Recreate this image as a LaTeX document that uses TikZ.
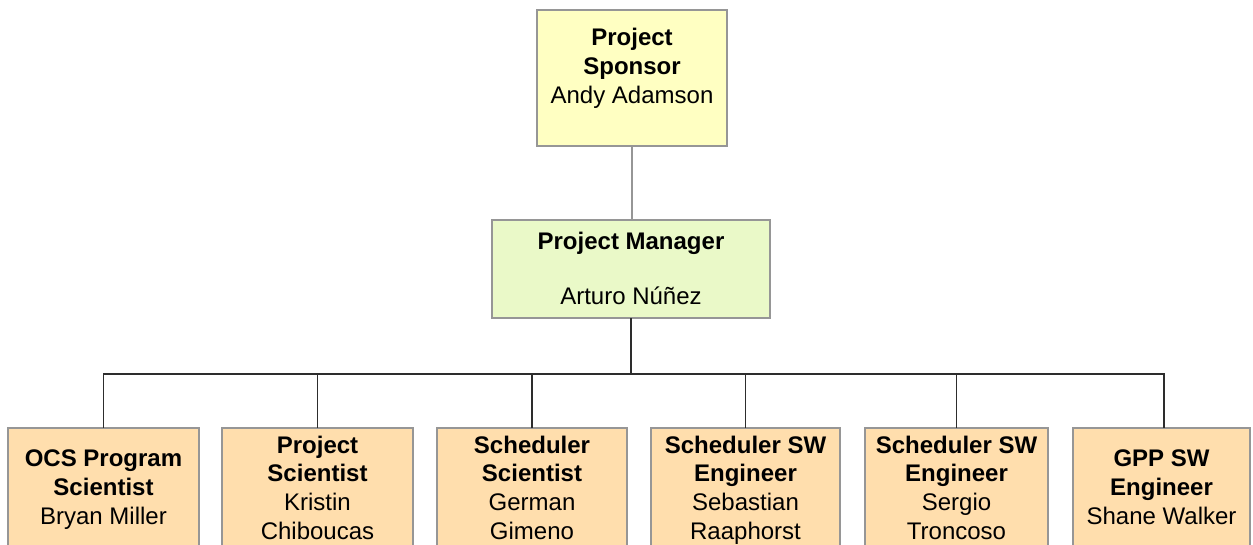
\documentclass[tikz,border=0pt]{standalone}
\usepackage{fontspec}
\setmainfont{Liberation Sans}
\definecolor{sponsorfill}{RGB}{255,255,194}
\definecolor{mgrfill}{RGB}{234,249,200}
\definecolor{staff}{RGB}{255,222,173}
\definecolor{edge}{RGB}{150,150,150}
\definecolor{bus}{RGB}{45,45,45}
\tikzset{
  box/.style={draw=edge, line width=1.2pt, inner sep=0pt, outer sep=0pt, anchor=north west},
  txt/.style={align=center, inner sep=0pt, anchor=north, font=\fontsize{24}{28.8}\selectfont},
  grayline/.style={draw=edge, line width=1.2pt},
  busline/.style={draw=bus, line width=1.5pt},
}
\begin{document}
\begin{tikzpicture}[x=1pt,y=-1pt]
\clip (0,0) rectangle (1253,544);
\fill[white] (0,0) rectangle (1253,544);
% boxes
\node[box, fill=sponsorfill, minimum width=190pt, minimum height=136pt] (sp) at (537,10) {};
\node[box, fill=mgrfill, minimum width=278pt, minimum height=98pt] (pm) at (492,220) {};
\node[box, fill=staff, minimum width=191pt, minimum height=140pt] (b1) at (8,428) {};
\node[box, fill=staff, minimum width=191pt, minimum height=140pt] (b2) at (222,428) {};
\node[box, fill=staff, minimum width=190pt, minimum height=140pt] (b3) at (437,428) {};
\node[box, fill=staff, minimum width=189pt, minimum height=140pt] (b4) at (651,428) {};
\node[box, fill=staff, minimum width=183pt, minimum height=140pt] (b5) at (865,428) {};
\node[box, fill=staff, minimum width=177pt, minimum height=140pt] (b6) at (1073,428) {};
% texts
\node[txt] (tsp) at (632,28) {\textbf{Project}\\\textbf{Sponsor}\\Andy Adamson};
\node[txt] (tpm) at (631,232) {\textbf{Project Manager}\\[26.2pt]Arturo Núñez};
\node[txt] (t1) at (103.5,449.5) {\textbf{OCS Program}\\\textbf{Scientist}\\Bryan Miller};
\node[txt] (t2) at (317.5,435.5) {\textbf{Project}\\\textbf{Scientist}\\Kristin\\Chiboucas};
\node[txt] (t3) at (532,435.5) {\textbf{Scheduler}\\\textbf{Scientist}\\German\\Gimeno};
\node[txt] (t4) at (745.5,435.5) {\textbf{Scheduler SW}\\\textbf{Engineer}\\Sebastian\\Raaphorst};
\node[txt] (t5) at (956.5,435.5) {\textbf{Scheduler SW}\\\textbf{Engineer}\\Sergio\\Troncoso};
\node[txt] (t6) at (1161.5,449.5) {\textbf{GPP SW}\\\textbf{Engineer}\\Shane Walker};
% connectors
\coordinate (busc) at ([yshift=-56pt]pm.south);
\draw[grayline] (sp.south) -- (sp.south |- pm.north);
\draw[busline] (pm.south) -- (busc);
\draw[busline] (busc) -| (b1.north);
\draw[busline] (busc) -| (b2.north);
\draw[busline] (busc) -| (b3.north);
\draw[busline] (busc) -| (b4.north);
\draw[busline] (busc) -| (b5.north);
\draw[busline] (busc) -| ([xshift=2.5pt]b6.north);
\end{tikzpicture}
\end{document}
